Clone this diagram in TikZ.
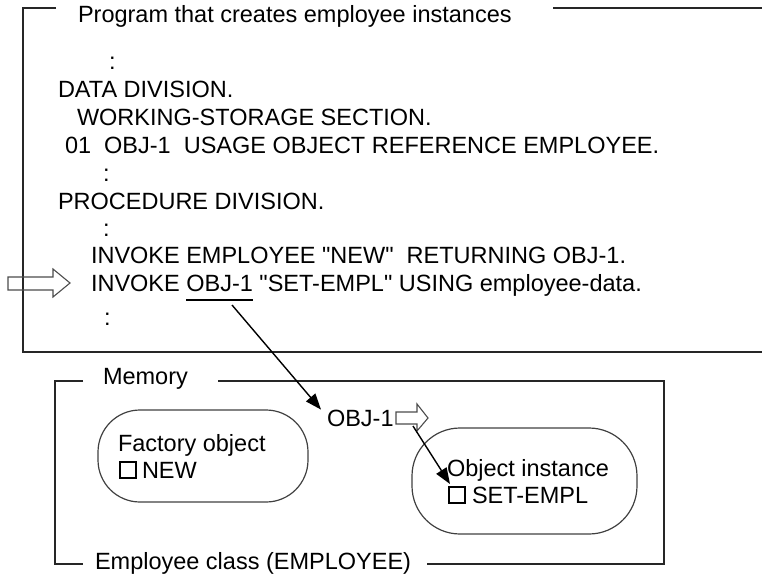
\documentclass[tikz,border=0pt]{standalone}
\usepackage{fontspec}
\setmainfont{Liberation Sans}[Ligatures=TeXOff]
\usetikzlibrary{arrows.meta}
\begin{document}
\begin{tikzpicture}[x=1pt,y=-1pt,
  font=\fontsize{23.5}{28}\selectfont,
  txt/.style={anchor=base west, inner sep=0pt, outer sep=0pt},
  frame/.style={line width=1.6pt, black!85},
  pill/.style={draw=black!75, line width=1.2pt, rounded corners=42pt, inner sep=0pt, outer sep=0pt},
  hollow/.style={draw=black!70, line width=1.1pt, line join=miter},
  link/.style={line width=1.4pt, -{Triangle[length=16pt,width=12pt]}},
  sq/.style={draw, line width=1.1pt, minimum size=16pt, inner sep=0pt, outer sep=0pt, anchor=north west}]
\useasboundingbox (0,0) rectangle (762,576);

% outer frame
\draw[frame] (56,8) -- (23,8) -- (23,352) -- (762,352);
\draw[frame] (553,8) -- (762,8);
\node[txt] (title) at (78,22) {Program that creates employee instances};

% program text
\node[txt] (c1) at (109,69) {:};
\node[txt] (dd) at (58,97) {DATA DIVISION.};
\node[txt] (ws) at (77,125) {WORKING-STORAGE SECTION.};
\node[txt] (l01) at (65,153) {01\ \ OBJ-1\ \ USAGE OBJECT REFERENCE EMPLOYEE.};
\node[txt] (c2) at (103,181) {:};
\node[txt] (pd) at (58,209) {PROCEDURE DIVISION.};
\node[txt] (c3) at (103,236) {:};
\node[txt] (inv1) at (91,263) {INVOKE EMPLOYEE "NEW"\ \ RETURNING OBJ-1.};
\node[txt] (inv2a) at (91,291) {INVOKE\ \mbox{}};
\node[txt] (objref) at (inv2a.base east) {OBJ-1};
\node[txt] (inv2b) at (objref.base east) {\mbox{}\ "SET-EMPL" USING employee-data.};
\draw[line width=1.4pt] ([yshift=-9pt]objref.base west) -- ([yshift=-9pt]objref.base east);
\node[txt] (c4) at (104,325) {:};

% big hollow arrow at left
\draw[hollow] (8,277) -- (53,277) -- (53,269) -- (70,283) -- (53,297) -- (53,290) -- (8,290) -- cycle;

% memory box
\draw[frame] (83,381) -- (55,381) -- (55,564) -- (83,564);
\draw[frame] (218,381) -- (664,381) -- (664,564) -- (427,564);
\node[txt] (mem) at (103,384) {Memory};
\node[txt] (cls) at (95,569) {Employee class (EMPLOYEE)};

% factory object
\node[pill, minimum width=210pt, minimum height=92pt] (fac) at (203,456) {};
\node[txt] (factxt) at (118,451) {Factory object};
\node[sq] (sqnew) at (120,462) {};
\node[txt] (new) at (142,478) {NEW};

% object instance
\node[pill, minimum width=225pt, minimum height=106pt, rounded corners=48pt] (inst) at (524.5,481) {};
\node[txt] (insttxt) at (447,476) {Object instance};
\node[sq] (sqset) at (449,487) {};
\node[txt] (set) at (472,503) {SET-EMPL};

% OBJ-1 in memory
\node[txt] (obj1) at (327,426) {OBJ-1};
\draw[hollow] (396,412) -- (417,412) -- (417,404) -- (428,418) -- (417,431) -- (417,424) -- (396,424) -- cycle;

% connectors
\coordinate (ls) at (232,305);
\draw[link] (ls) -- ([xshift=-6pt]obj1.north west);
\coordinate (sa) at (413,426);
\draw[link] (sa) -- ([xshift=1pt,yshift=3pt]sqset.north west);
\end{tikzpicture}
\end{document}
